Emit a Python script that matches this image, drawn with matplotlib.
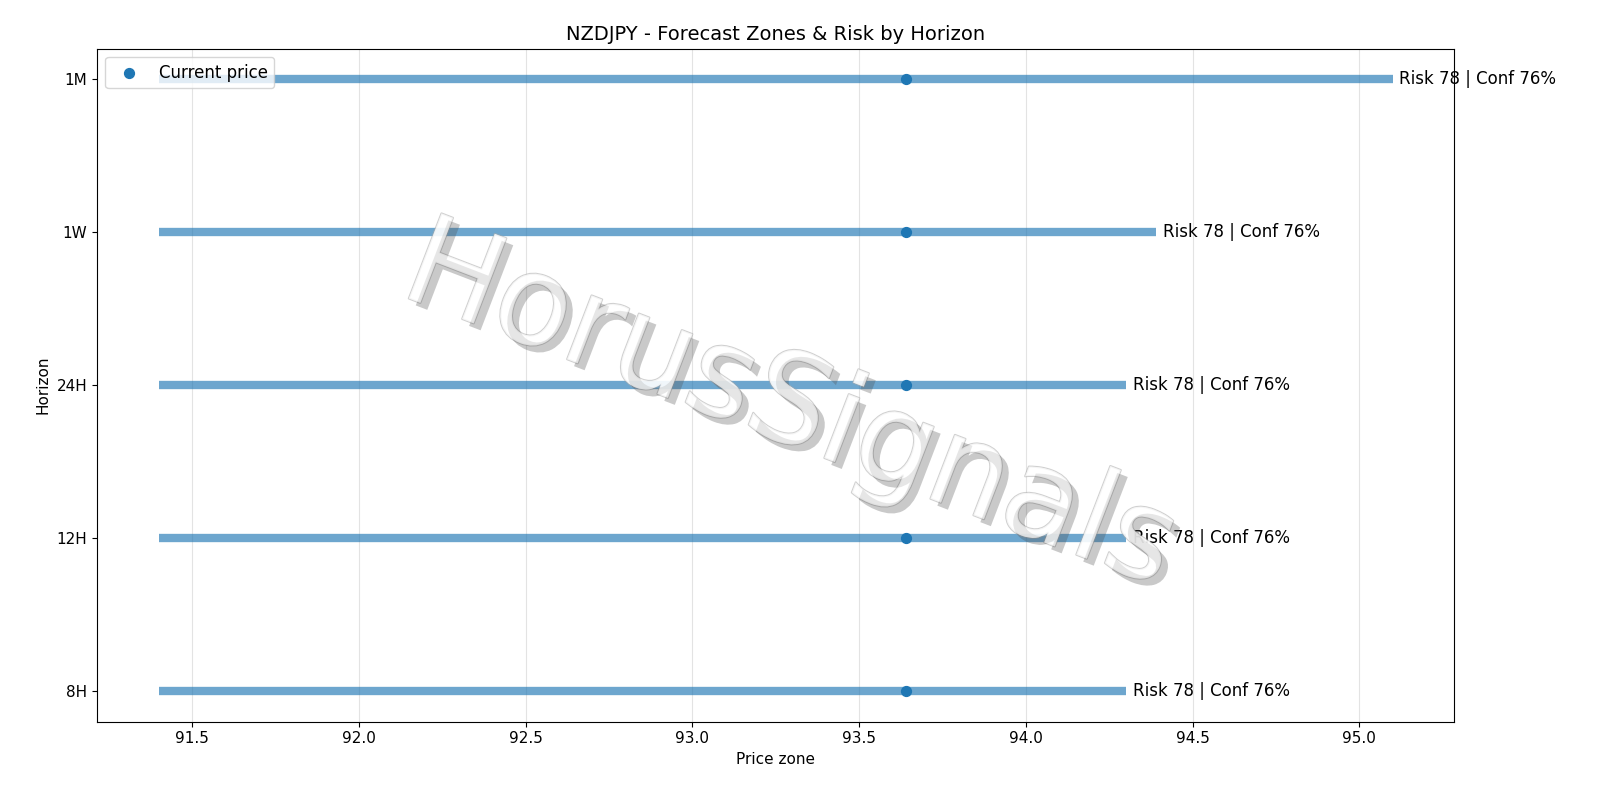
import matplotlib
matplotlib.use("Agg")
import matplotlib.pyplot as plt
import matplotlib.patheffects as pe

horizons = ["8H", "12H", "24H", "1W", "1M"]
lows = [91.40, 91.40, 91.40, 91.40, 91.40]
highs = [94.30, 94.30, 94.30, 94.39, 95.10]
current = 93.64
risk = [78, 78, 78, 78, 78]
conf = [76, 76, 76, 76, 76]

fig, ax = plt.subplots(figsize=(16, 8), dpi=100)
ys = list(range(len(horizons)))
for y, lo, hi, r, c in zip(ys, lows, highs, risk, conf):
    ax.plot([lo, hi], [y, y], color="#1f77b4", alpha=0.65, linewidth=6, solid_capstyle="butt")
    ax.text(hi + 0.02, y, f"Risk {r} | Conf {c}%", va="center", fontsize=12)
ax.scatter([current] * len(ys), ys, color="#1f77b4", s=50, zorder=3, label="Current price")
ax.set_yticks(ys)
ax.set_yticklabels(horizons, fontsize=11)
ax.tick_params(axis="x", labelsize=11)
ax.grid(axis="x", alpha=0.35)
ax.set_xlabel("Price zone", fontsize=11)
ax.set_ylabel("Horizon", fontsize=11)
ax.set_title("NZDJPY - Forecast Zones & Risk by Horizon", fontsize=14)
ax.legend(loc="upper left", fontsize=12)
fig.text(0.494, 0.49, "HorusSignals", fontsize=90, rotation=-21, ha="center", va="center",
         color="white", alpha=0.55,
         path_effects=[pe.withStroke(linewidth=1.5, foreground="#aaaaaa"),
                       pe.SimplePatchShadow(offset=(5, -5), alpha=0.3), pe.Normal()])
fig.subplots_adjust(left=0.0606, right=0.909, top=0.939, bottom=0.098)
fig.savefig("out.png")
